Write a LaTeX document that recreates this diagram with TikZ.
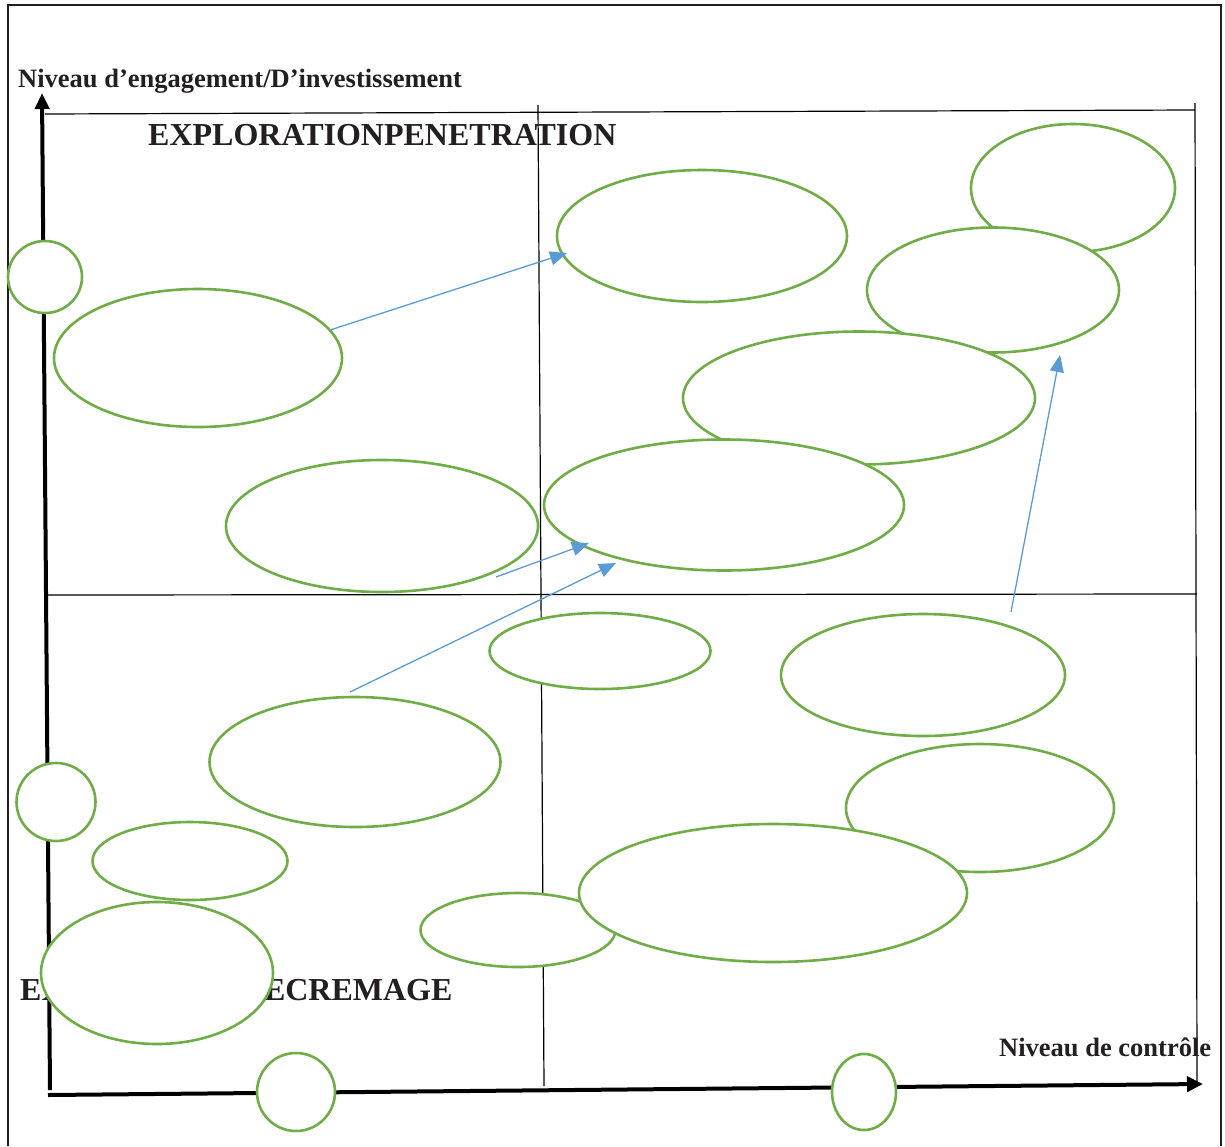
\documentclass[tikz,border=0pt]{standalone}
\usepackage{fontspec}
\setmainfont{Liberation Serif}
\usetikzlibrary{shapes.geometric,arrows.meta}
\definecolor{egreen}{HTML}{70AD47}
\definecolor{ablue}{HTML}{5B9BD5}
\definecolor{ink}{HTML}{231F20}
\begin{document}
\begin{tikzpicture}[x=1pt,y=-1pt,
  ell/.style={ellipse,draw=egreen,line width=2.6pt,fill=white,inner sep=0pt},
  gridline/.style={draw=black,line width=1.2pt},
  axisline/.style={draw=black,line width=4pt},
  flow/.style={draw=ablue,line width=1.3pt,-{Triangle[length=17pt,width=14pt]}},
  lbl/.style={inner sep=0pt,anchor=base west,text=ink,font=\bfseries\fontsize{26.5}{30}\selectfont},
  biglbl/.style={inner sep=0pt,anchor=base west,text=ink,font=\bfseries\fontsize{32}{36}\selectfont}]
\useasboundingbox (0,0) rectangle (1225,1146);
\fill[white] (0,0) rectangle (1225,1146);
% outer frame
\draw[line width=1.6pt,draw=ink] (8,1146) -- (8,5) -- (1221,5) -- (1221,1146);
% grid
\draw[gridline] (45,114) -- (1195,110);
\draw[gridline] (1195,103) -- (1197,1082);
\draw[gridline] (538,105) -- (544,1086);
\draw[gridline] (47,595) -- (1197,594);
% axes
\draw[axisline,-{Triangle[length=16pt,width=14pt]}] (50,1090) -- (42,93);
\draw[axisline,-{Triangle[length=16pt,width=15pt]}] (48,1095) -- (1203,1084);
% labels
\node[lbl] (ylab) at (18,87) {Niveau d’engagement/D’investissement};
\node[lbl] (xlab) at (999,1056) {Niveau de contrôle};
\node[biglbl] (q1) at (148,145) {EXPLORATIONPENETRATION};
\node[biglbl] (q2) at (20,1000) {EXPLORATION ECREMAGE};
% ellipses
\node[ell,minimum width=288pt,minimum height=138pt] (L1) at (198,358) {};
\node[ell,minimum width=290pt,minimum height=132pt] (T) at (702,236) {};
\node[ell,minimum width=204pt,minimum height=128pt] (A) at (1073,188) {};
\node[ell,minimum width=252pt,minimum height=125pt] (B) at (993,290) {};
\node[ell,minimum width=352pt,minimum height=133pt] (C) at (859,398) {};
\node[ell,minimum width=360pt,minimum height=131pt] (D) at (724,505) {};
\node[ell,minimum width=312pt,minimum height=132pt] (L2) at (382,526) {};
\node[ell,minimum width=221pt,minimum height=76pt] (M1) at (600,651) {};
\node[ell,minimum width=284pt,minimum height=122pt] (R1) at (923,675) {};
\node[ell,minimum width=291pt,minimum height=130pt] (L3) at (355,762) {};
\node[ell,minimum width=268pt,minimum height=128pt] (E) at (980,808) {};
\node[ell,minimum width=195pt,minimum height=78pt] (L4) at (190,861) {};
\node[ell,minimum width=195pt,minimum height=74pt] (G) at (518,930) {};
\node[ell,minimum width=388pt,minimum height=138pt] (F) at (773,893) {};
\node[ell,minimum width=232pt,minimum height=142pt] (BL) at (157,973) {};
% small circles on the axes
\node[ell,minimum width=74pt,minimum height=72pt] (c1) at (45,277) {};
\node[ell,minimum width=79pt,minimum height=78pt] (c2) at (56,802) {};
\node[ell,minimum width=78pt,minimum height=78pt] (c3) at (296,1092) {};
\node[ell,minimum width=64pt,minimum height=76pt] (c4) at (864,1092) {};
% arrow end points
\coordinate (a1e) at (567,253);
\coordinate (a2s) at (496,577);
\coordinate (a2e) at (589,543);
\coordinate (a3s) at (350,692);
\coordinate (a3e) at (616,563);
\coordinate (a4s) at (1011,612);
\coordinate (a4e) at (1060,355);
% arrows
\draw[flow] (L1.12) -- (a1e);
\draw[flow] (a2s) -- (a2e);
\draw[flow] (a3s) -- (a3e);
\draw[flow] (a4s) -- (a4e);
\end{tikzpicture}
\end{document}
